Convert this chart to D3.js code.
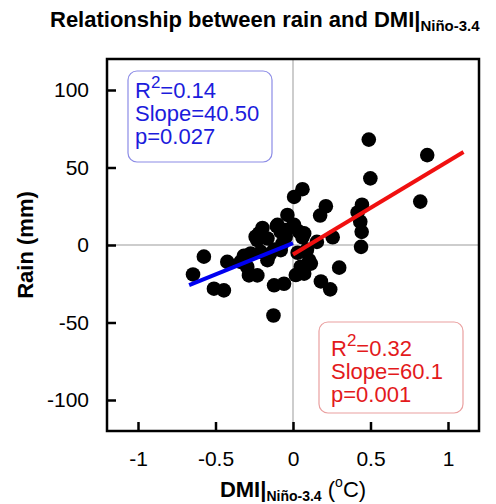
<!DOCTYPE html>
<html>
<head>
<meta charset="utf-8">
<script src="https://cdn.jsdelivr.net/npm/d3@7"></script>
<style>
  body { margin: 0; background: #fff; }
  text { font-family: "Liberation Sans", Arial, sans-serif; }
</style>
</head>
<body>
<div id="container"></div>
<script>
// DMI (deg C) and rain (mm)
var dmi = [0.489, 0.866, 0.499, 0.821, 0.061, 0.007, 0.212, 0.175, 0.445, 0.417,
           0.434, 0.443, 0.439, 0.256, 0.154, 0.298, 0.18, 0.24, 0.104, 0.05,
           0.018, 0.072, 0.115, 0.04, 0.061, 0.007, 0.072, 0.03, 0.09,
           -0.058, -0.036, -0.219, -0.105, -0.241, -0.165, -0.079, -0.003, -0.575, -0.645,
           -0.424, -0.51, -0.446, -0.317, -0.273, -0.295, -0.284, -0.23, -0.165, -0.122,
           -0.126, -0.208, -0.122, -0.068, -0.047, -0.1, -0.047, -0.197, -0.338, -0.23,
           -0.079, -0.15];
var rain = [68, 58, 43, 28, 36, 31, 25, 19, 26, 21,
            15, 8.5, -1.2, 5, 2, -14.6, -23.5, -28.6, -9.8, -14,
            -19.4, -18.5, -12, 8.5, 5, 13, 7.5, -5, -3,
            -25, 19.4, 7.5, 12.2, 5.3, 4.2, 8.5, 11.8, -7.5, -19,
            -10.9, -28.2, -29.3, -7, -5.5, -14.2, -19.6, -19.6, -9.8, -26,
            -45.5, -4.4, -3, 1, 5.3, 13, 9.6, 11, -10.9, 3.1,
            -3.3, -6];

// the two regression fits
var fitText = ["#1c1cdc", "#e31a1c"];
var fitLine = ["#0000f0", "#f01010"];
var fitBorders = ["#8c8ce6", "#eaa0a0"];
var fitSlopes = [40.5, 60.1];
var fitIntercepts = [1.2, -6.1];
var fitFrom = [-0.67, 0];
var fitTo = [0, 1.1];
var fitR2 = ["0.14", "0.32"];
var fitSlopeText = ["40.50", "60.1"];
var fitP = ["0.027", "0.001"];

var xTicks = [-1, -0.5, 0, 0.5, 1];
var yTicks = [-100, -50, 0, 50, 100];

var width = 496, height = 504;
var margin = {left: 107, top: 59, right: 17, bottom: 73};
var plotW = width - margin.left - margin.right,
    plotH = height - margin.top - margin.bottom;

var svg = d3.select("#container").append("svg")
    .attr("width", width)
    .attr("height", height);

var g = svg.append("g")
    .attr("transform", "translate(" + margin.left + "," + margin.top + ")");

var x = d3.scaleLinear().domain([-1.2, 1.2]).range([0, plotW]);
var y = d3.scaleLinear().domain([-120, 120]).range([plotH, 0]);

// zero lines
g.append("line")
    .attr("x1", x(0)).attr("x2", x(0)).attr("y1", 0).attr("y2", plotH)
    .attr("stroke", "#bdbdbd").attr("stroke-width", 1.5);
g.append("line")
    .attr("x1", 0).attr("x2", plotW).attr("y1", y(0)).attr("y2", y(0))
    .attr("stroke", "#bdbdbd").attr("stroke-width", 1.5);

// stat boxes
var boxes = [
    {bx: 128, by: 71, tx: 135, ty: 98},
    {bx: 319, by: 322, tx: 331, ty: 356}
];
boxes.forEach(function(b, i) {
    svg.append("rect")
        .attr("x", b.bx).attr("y", b.by)
        .attr("width", 144).attr("height", 91)
        .attr("rx", 9)
        .attr("fill", "#fff")
        .attr("stroke", fitBorders[i]).attr("stroke-width", 1.2);
    var t = svg.append("text")
        .attr("x", b.tx).attr("y", b.ty)
        .attr("fill", fitText[i])
        .style("font-size", "22px");
    t.append("tspan").text("R");
    t.append("tspan").attr("dy", -10).style("font-size", "17px").text("2");
    t.append("tspan").attr("dy", 10).text("=" + fitR2[i]);
    svg.append("text")
        .attr("x", b.tx).attr("y", b.ty + 23)
        .attr("fill", fitText[i])
        .style("font-size", "22px")
        .text("Slope=" + fitSlopeText[i]);
    svg.append("text")
        .attr("x", b.tx).attr("y", b.ty + 46)
        .attr("fill", fitText[i])
        .style("font-size", "22px")
        .text("p=" + fitP[i]);
});

// points
g.selectAll(".dot")
    .data(dmi.map(function(d, i) { return [d, rain[i]]; }))
    .enter()
    .append("circle")
    .attr("class", "dot")
    .attr("cx", function(d) { return x(d[0]); })
    .attr("cy", function(d) { return y(d[1]); })
    .attr("r", 7.3)
    .attr("fill", "#000");

// fit lines
fitSlopes.forEach(function(s, i) {
    g.append("line")
        .attr("x1", x(fitFrom[i])).attr("y1", y(s * fitFrom[i] + fitIntercepts[i]))
        .attr("x2", x(fitTo[i])).attr("y2", y(s * fitTo[i] + fitIntercepts[i]))
        .attr("stroke", fitLine[i])
        .attr("stroke-width", 4);
});

// axes, ticks inward
var yAxis = g.append("g")
    .call(d3.axisLeft(y).tickValues(yTicks).tickSizeInner(-9).tickSizeOuter(0)
        .tickPadding(18).tickFormat(function(d) { return String(d); }));
var xAxis = g.append("g")
    .attr("transform", "translate(0," + plotH + ")")
    .call(d3.axisBottom(x).tickValues(xTicks).tickSizeInner(-9).tickSizeOuter(0)
        .tickPadding(20).tickFormat(function(d) { return String(d); }));
[xAxis, yAxis].forEach(function(a) {
    a.select(".domain").remove();
    a.selectAll("line").attr("stroke", "#000").attr("stroke-width", 2.5);
    a.selectAll("text")
        .style("font-family", "Liberation Sans, Arial, sans-serif")
        .style("font-size", "21px")
        .attr("fill", "#000");
});

// frame
g.append("rect")
    .attr("width", plotW).attr("height", plotH)
    .attr("fill", "none")
    .attr("stroke", "#000").attr("stroke-width", 2.5);

// title
var title = svg.append("text")
    .attr("x", 50).attr("y", 27)
    .style("font-size", "22px").style("font-weight", "bold");
title.append("tspan").text("Relationship between rain and DMI|");
title.append("tspan").attr("dy", 4).style("font-size", "15px").text("Niño-3.4");

// x label
var xl = svg.append("text")
    .attr("x", x(0) + margin.left).attr("y", 497)
    .attr("text-anchor", "middle")
    .style("font-size", "22px");
xl.append("tspan").style("font-weight", "bold").text("DMI|");
xl.append("tspan").attr("dy", 4).style("font-weight", "bold").style("font-size", "14px").text("Niño-3.4");
xl.append("tspan").attr("dy", -4).text(" (");
xl.append("tspan").attr("dy", -10).style("font-size", "14px").text("o");
xl.append("tspan").attr("dy", 10).text("C)");

// y label
svg.append("text")
    .attr("transform", "translate(33," + (margin.top + y(0)) + ") rotate(-90)")
    .attr("text-anchor", "middle")
    .style("font-size", "22px").style("font-weight", "bold")
    .text("Rain (mm)");
</script>
</body>
</html>
